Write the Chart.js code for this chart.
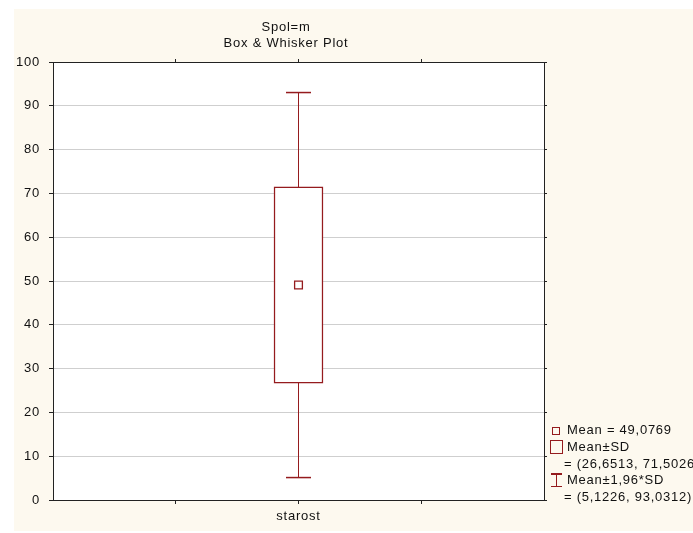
<!DOCTYPE html>
<html>
<head>
<meta charset="utf-8">
<script src="https://cdn.jsdelivr.net/npm/chart.js@4"></script>
<style>
  html, body { margin: 0; padding: 0; background: #fff; overflow: hidden; width: 693px; height: 533px; }
  #frame { position: absolute; left: 14px; top: 9px; width: 679px; height: 522px; background: #fdf9ef; }
  #wrap { position: absolute; left: 0; top: 0; width: 544px; height: 522px; }
  .lg { position: absolute; font: 13px "Liberation Sans", Arial, sans-serif; letter-spacing: 0.75px; color: #111; white-space: nowrap; line-height: 17px; }
  .mk { position: absolute; box-sizing: border-box; border: 1.5px solid #951b1e; }
</style>
</head>
<body>
<div id="frame">
  <div id="wrap"><canvas id="boxChart"></canvas></div>
</div>
<div id="legend"></div>
<script>
// Dados
const categories = ['starost'];
const meanValues = [49.0769];
const sdLow = [26.6513];
const sdHigh = [71.5026];
const ciLow = [5.1226];
const ciHigh = [93.0312];
const titleLines = ['Spol=m', 'Box & Whisker Plot'];
const yMin = 0, yMax = 100, yStep = 10;

const red = '#951b1e';
const font = { family: '"Liberation Sans", Arial, sans-serif', size: 13 };
const fmt = v => v.toFixed(4).replace('.', ',');

// fundo branco da area do grafico + espacamento das letras
const plotBg = {
  id: 'plotBg',
  beforeDraw(chart) {
    const { ctx, chartArea: a } = chart;
    ctx.letterSpacing = '0.75px';
    ctx.save();
    ctx.fillStyle = '#fff';
    ctx.fillRect(a.left, a.top, a.right - a.left, a.bottom - a.top);
    ctx.restore();
  }
};

const xTicks = scale => {
  const t = [];
  for (let v = scale.min + 1; v < scale.max; v++) t.push({ value: v });
  scale.ticks = t;
};

const ctx = document.getElementById('boxChart').getContext('2d');
const boxChart = new Chart(ctx, {
  type: 'bar',
  data: {
    datasets: [
      {
        type: 'bar',
        data: categories.map((c, i) => ({ x: i, y: [sdLow[i], sdHigh[i]] })),
        backgroundColor: '#fff',
        borderColor: red,
        borderWidth: 1.5,
        borderSkipped: false,
        barThickness: 49,
        order: 2
      },
      {
        type: 'line',
        data: categories.flatMap((c, i) => [{ x: i, y: ciLow[i] }, { x: i, y: ciHigh[i] }, { x: i, y: null }]),
        borderColor: red,
        borderWidth: 1,
        pointRadius: 0,
        spanGaps: false,
        order: 3
      },
      {
        type: 'line',
        data: categories.flatMap((c, i) => [{ x: i, y: ciLow[i] }, { x: i, y: ciHigh[i] }]),
        showLine: false,
        pointStyle: 'line',
        pointRadius: 12.5,
        borderColor: red,
        pointBorderWidth: 1.5,
        order: 1
      },
      {
        type: 'line',
        data: categories.map((c, i) => ({ x: i, y: meanValues[i] })),
        showLine: false,
        pointStyle: 'rect',
        pointRadius: 5.5,
        pointBackgroundColor: '#fff',
        pointBorderColor: red,
        pointBorderWidth: 1.3,
        order: 0
      }
    ]
  },
  options: {
    responsive: true,
    maintainAspectRatio: false,
    animation: false,
    events: [],
    layout: { padding: 0 },
    plugins: {
      legend: { display: false },
      tooltip: { enabled: false },
      title: {
        display: true,
        text: titleLines,
        color: '#111',
        font: { ...font, weight: 'normal', lineHeight: 1.27 },
        padding: { top: 10, bottom: 0 }
      }
    },
    scales: {
      x: {
        type: 'linear',
        position: 'bottom',
        min: -2,
        max: categories.length + 1,
        offset: false,
        afterBuildTicks: xTicks,
        afterFit: s => { s.height = 31; },
        ticks: {
          color: '#111',
          font: font,
          padding: 5,
          maxRotation: 0,
          callback: v => categories[v] !== undefined ? categories[v] : ''
        },
        grid: { drawOnChartArea: false, offset: false, tickLength: 4, tickColor: '#222' },
        border: { color: '#222', width: 1 }
      },
      xTop: {
        type: 'linear',
        position: 'top',
        min: -2,
        max: categories.length + 1,
        offset: false,
        afterBuildTicks: xTicks,
        afterFit: s => { s.height = 10; },
        ticks: { display: false },
        grid: { drawOnChartArea: false, offset: false, tickLength: 3, tickColor: '#222' },
        border: { color: '#222', width: 1 }
      },
      y: {
        min: yMin,
        max: yMax,
        afterFit: s => { s.width = 39; },
        ticks: { stepSize: yStep, color: '#111', font: font, padding: 9 },
        grid: { color: '#cfcfcf', tickLength: 4, tickColor: '#222' },
        border: { color: '#222', width: 1 }
      },
      yRight: {
        position: 'right',
        min: yMin,
        max: yMax,
        afterFit: s => { s.width = 9; },
        ticks: { stepSize: yStep, display: false },
        grid: { drawOnChartArea: false, tickLength: 3, tickColor: '#222' },
        border: { color: '#222', width: 1 }
      }
    }
  },
  plugins: [plotBg]
});

// Legenda
const legend = document.getElementById('legend');
const addText = (txt, left, centerY) => {
  const d = document.createElement('div');
  d.className = 'lg';
  d.style.left = left + 'px';
  d.style.top = (centerY - 9) + 'px';
  d.textContent = txt;
  legend.appendChild(d);
};
const addBox = (left, top, w, h) => {
  const d = document.createElement('div');
  d.className = 'mk';
  d.style.left = left + 'px';
  d.style.top = top + 'px';
  d.style.width = w + 'px';
  d.style.height = h + 'px';
  legend.appendChild(d);
  return d;
};
addBox(552, 427, 8, 8);
addText('Mean = ' + fmt(meanValues[0]), 567, 430);
addBox(550, 440, 13, 14);
addText('Mean±SD', 567, 447);
addText('= (' + fmt(sdLow[0]) + ', ' + fmt(sdHigh[0]) + ')', 564, 464);
const ib = addBox(551, 473, 11, 14);
ib.style.border = 'none';
ib.innerHTML = '<div style="position:absolute;left:0;top:0;width:11px;height:1.5px;background:' + red + '"></div>' +
  '<div style="position:absolute;left:5px;top:0;width:1px;height:14px;background:' + red + '"></div>' +
  '<div style="position:absolute;left:0;bottom:0;width:11px;height:1.5px;background:' + red + '"></div>';
addText('Mean±1,96*SD', 567, 480);
addText('= (' + fmt(ciLow[0]) + ', ' + fmt(ciHigh[0]) + ')', 564, 497);
</script>
</body>
</html>
